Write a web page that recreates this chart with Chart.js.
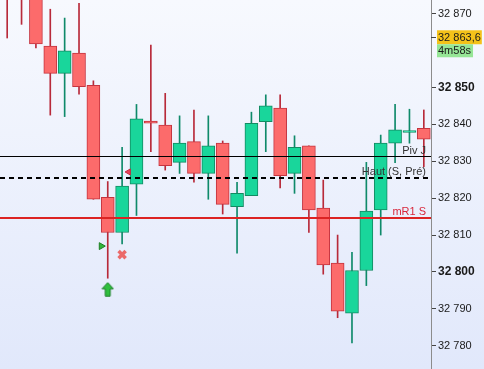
<!DOCTYPE html>
<html><head><meta charset="utf-8">
<script src="https://cdn.jsdelivr.net/npm/chart.js@4/dist/chart.umd.min.js"></script>
<style>html,body{margin:0;padding:0;overflow:hidden;background:#fff}canvas{display:block}</style>
</head><body>
<canvas id="c" width="484" height="369"></canvas>
<script>
// ---- data ----
const categories = ['1','2','3','4','5','6','7','8','9','10','11','12','13','14','15','16','17','18','19','20','21','22','23','24','25','26','27','28','29','30'];
const opens  = [32884,32882,32885,32861.2,32853.8,32859.3,32850.6,32820.2,32810.7,32823.8,32840.9,32839.8,32829.7,32835.3,32826.7,32834.9,32817.7,32820.7,32840.7,32844.4,32826.7,32834.2,32817.3,32802.4,32788.8,32800.4,32816.8,32834.9,32837.8,32838.9];
const highs  = [32890,32889,32890,32871.2,32868.8,32872.8,32851.8,32824.5,32833.8,32845.4,32861.5,32848.4,32842.3,32843.9,32842.3,32835.5,32824.3,32843.3,32848.0,32848.0,32836.9,32834.2,32824.9,32810.0,32805.3,32829.7,32837.1,32845.4,32844.1,32843.9];
const lows   = [32863.4,32867.1,32860.7,32842.5,32842.1,32848.2,32819.7,32798.3,32807.6,32815.3,32832.6,32827.6,32826.7,32824.3,32819.7,32815.7,32805.1,32820.7,32832.6,32822.8,32821.3,32810.7,32799.4,32787.6,32780.8,32796.3,32810.0,32829.6,32834.9,32828.5];
const closes = [32878,32876,32861.8,32853.8,32859.9,32850.2,32819.7,32810.7,32823.3,32841.5,32840.3,32828.8,32834.9,32826.7,32834.2,32818.3,32821.3,32840.3,32845.0,32826.1,32833.8,32816.8,32801.9,32789.4,32800.4,32816.5,32834.9,32838.5,32838.3,32836.0];

const tickValues = [32780,32790,32800,32810,32820,32830,32840,32850,32870];
const tickLabels = ['32 780','32 790','32 800','32 810','32 820','32 830','32 840','32 850','32 870'];
const boldTicks  = [32800,32850];

const levelNames  = ['Piv J','Haut (S, Pré)','mR1 S'];
const levelValues = [32831.4,32825.5,32814.6];

const lastPrice = 32863.6;
const lastPriceLabel = '32 863,6';
const timerLabel = '4m58s';

// signal markers: position in candle index units, price
const buyTriangle  = {x: 6.55, y: 32807.0};
const sellTriangle = {x: 8.45, y: 32827.1};
const exitCross    = {x: 8.0,  y: 32804.7};
const buyArrow     = {x: 7.0,  y: 32795.3};

// ---- styling ----
const UP_FILL='#19d69b', UP_LINE='#138a62', DN_FILL='#fc6b6b', DN_LINE='#c5343f';
const isUp = i => closes[i] >= opens[i];
const FONT = '"Liberation Sans", Arial, sans-serif';

const arrowImg = (() => {
  const cv = document.createElement('canvas'); cv.width = 13; cv.height = 15;
  const g = cv.getContext('2d');
  g.beginPath();
  g.moveTo(6.5,0.8); g.lineTo(12.2,7); g.lineTo(9,7); g.lineTo(9,14.2); g.lineTo(4,14.2); g.lineTo(4,7); g.lineTo(0.8,7); g.closePath();
  g.fillStyle='#2fbf3e'; g.fill(); g.strokeStyle='#1c7f28'; g.lineWidth=1; g.stroke();
  return cv;
})();

const bgPlugin = {
  id:'bg',
  beforeDraw(chart){
    const {ctx,width,height} = chart;
    const gr = ctx.createLinearGradient(0,0,0,height);
    gr.addColorStop(0,'#f7f9fe'); gr.addColorStop(1,'#e1e8fb');
    ctx.save(); ctx.fillStyle=gr; ctx.fillRect(0,0,width,height); ctx.restore();
  }
};

const levelStyles = [
  {color:'#000000', width:1, dash:[], text:'#333333'},
  {color:'#000000', width:2, dash:[5,4], text:'#333333'},
  {color:'#dc2323', width:2, dash:[], text:'#d8263a'}
];

const levelsPlugin = {
  id:'levels',
  afterDatasetsDraw(chart){
    const {ctx, chartArea:a, scales:{y}} = chart;
    ctx.save();
    ctx.beginPath(); ctx.rect(a.left,a.top,a.right-a.left,a.bottom-a.top); ctx.clip();
    levelValues.forEach((v,i)=>{
      const st = levelStyles[i];
      let py = y.getPixelForValue(v);
      if (st.width % 2 === 1) py = Math.round(py)+0.5; else py = Math.round(py);
      ctx.beginPath(); ctx.setLineDash(st.dash); ctx.lineWidth=st.width; ctx.strokeStyle=st.color;
      ctx.moveTo(a.left,py); ctx.lineTo(a.right,py); ctx.stroke();
      ctx.setLineDash([]);
      ctx.font='11px ' + FONT;
      ctx.fillStyle=st.text; ctx.textAlign='right'; ctx.textBaseline='alphabetic';
      ctx.fillText(levelNames[i], a.right-5, py-3);
    });
    ctx.restore();
  }
};

const tagPlugin = {
  id:'tag',
  afterDraw(chart){
    const {ctx, chartArea:a, scales:{y}} = chart;
    const py = y.getPixelForValue(lastPrice);
    ctx.save();
    ctx.strokeStyle='#444'; ctx.lineWidth=1;
    ctx.beginPath(); ctx.moveTo(a.right, Math.round(py)+0.5); ctx.lineTo(a.right+5, Math.round(py)+0.5); ctx.stroke();
    ctx.font='11px ' + FONT;
    ctx.textBaseline='middle'; ctx.textAlign='left';
    const w1 = ctx.measureText(lastPriceLabel).width + 2;
    ctx.fillStyle='#f4c21a'; ctx.fillRect(a.right+6, py-7, w1, 14);
    ctx.fillStyle='#1a1a1a'; ctx.fillText(lastPriceLabel, a.right+7, py+0.5);
    const w2 = ctx.measureText(timerLabel).width + 3;
    ctx.fillStyle='#96e696'; ctx.fillRect(a.right+6, py+7, w2, 13);
    ctx.fillStyle='#1a1a1a'; ctx.fillText(timerLabel, a.right+7, py+13.5);
    ctx.restore();
  }
};

new Chart(document.getElementById('c'), {
  type:'bar',
  data:{
    labels: categories,
    datasets:[
      { type:'line', xAxisID:'xm', order:0, showLine:false, data:[buyTriangle],
        pointStyle:'triangle', rotation:90, radius:4, backgroundColor:'#33b53a', borderColor:'#1d7f24', borderWidth:1 },
      { type:'line', xAxisID:'xm', order:0, showLine:false, data:[sellTriangle],
        pointStyle:'triangle', rotation:-90, radius:3.5, backgroundColor:'#e8455a', borderColor:'#c42c40', borderWidth:1 },
      { type:'line', xAxisID:'xm', order:0, showLine:false, data:[exitCross],
        pointStyle:'crossRot', radius:5, borderColor:'#eb6a6a', borderWidth:3.5 },
      { type:'line', xAxisID:'xm', order:0, showLine:false, data:[buyArrow],
        pointStyle:arrowImg, radius:7 },
      { label:'body', order:1, grouped:false, barThickness:13, borderWidth:1, borderSkipped:false,
        data: opens.map((o,i)=>[o, closes[i]]),
        backgroundColor: opens.map((o,i)=>isUp(i)?UP_FILL:DN_FILL),
        borderColor: opens.map((o,i)=>isUp(i)?UP_LINE:DN_LINE) },
      { label:'wick', order:2, grouped:false, barThickness:1, borderWidth:0,
        data: lows.map((l,i)=>[l, highs[i]]),
        backgroundColor: lows.map((l,i)=>isUp(i)?'#0f8a6a':'#b82a3a') }
    ]
  },
  options:{
    responsive:false, animation:false, devicePixelRatio:1,
    layout:{padding:0, autoPadding:false},
    plugins:{legend:{display:false}, tooltip:{enabled:false}},
    scales:{
      x:{ type:'category', display:false, offset:true },
      xm:{ type:'linear', display:false, offset:false, grid:{offset:false}, bounds:'data', min:-0.5, max:29.5 },
      y:{ position:'right', min:32773.7, max:32873.7,
          afterBuildTicks:(s)=>{ s.ticks = tickValues.map(v=>({value:v})); },
          afterFit:(s)=>{ s.width = 53; s.paddingTop = 0; s.paddingBottom = 0; },
          border:{display:true, color:'#8c8c8c', width:1},
          grid:{drawOnChartArea:false, drawTicks:true, tickLength:5, color:'#444'},
          ticks:{ padding:2, color:'#1a1a1a',
            callback:(v)=>{ const k = tickValues.indexOf(v); return k>=0 ? tickLabels[k] : ''; },
            font:(ctx)=> (ctx.tick && boldTicks.includes(ctx.tick.value))
              ? {family:FONT, size:12, weight:'bold'}
              : {family:FONT, size:11} }
      }
    }
  },
  plugins:[bgPlugin, levelsPlugin, tagPlugin]
});
</script>
</body></html>
